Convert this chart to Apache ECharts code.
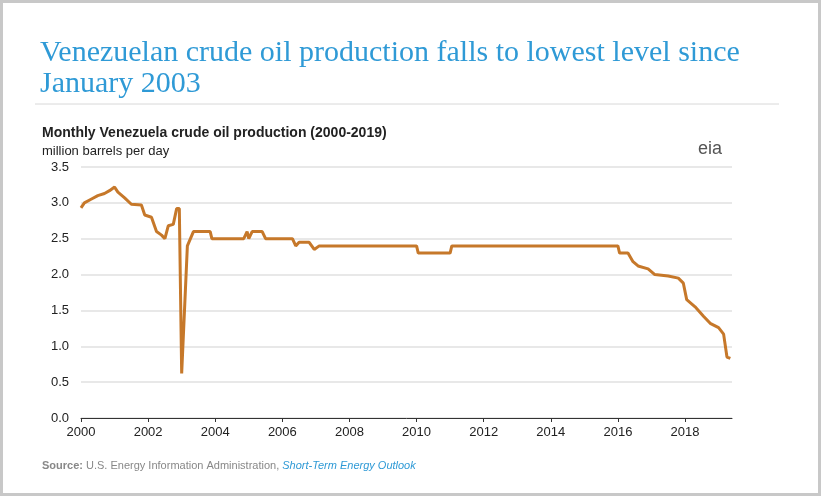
<!DOCTYPE html>
<html>
<head>
<meta charset="utf-8">
<script src="https://cdn.jsdelivr.net/npm/echarts@6/dist/echarts.min.js"></script>
<style>
  html, body { margin: 0; padding: 0; background: #fff; }
  #main { width: 821px; height: 496px; box-sizing: border-box; border: 3px solid #c8c8c8; }
</style>
</head>
<body>
<div id="main"></div>
<script>
// decimal year and production (million barrels per day)
var years = [2000.0, 2000.1, 2000.3, 2000.5, 2000.7, 2000.85, 2001.0, 2001.1, 2001.3, 2001.5, 2001.8, 2001.9, 2002.1, 2002.25, 2002.4, 2002.5, 2002.6, 2002.75,
    2002.85, 2002.93, 2003.0, 2003.17, 2003.35, 2003.85, 2003.9, 2004.85, 2004.95, 2005.0, 2005.1, 2005.4, 2005.5, 2006.3, 2006.4, 2006.5, 2006.8, 2006.95, 2007.1,
    2010.0, 2010.05, 2011.0, 2011.05, 2016.0, 2016.05, 2016.3, 2016.45, 2016.6, 2016.9, 2017.1, 2017.5, 2017.8, 2017.95, 2018.05, 2018.3, 2018.55, 2018.75, 2019.0, 2019.15, 2019.25, 2019.35];
var production = [2.93, 3.0, 3.05, 3.1, 3.13, 3.17, 3.22, 3.15, 3.07, 2.98, 2.97, 2.83, 2.8, 2.6, 2.55, 2.5, 2.68, 2.7,
    2.92, 2.92, 0.62, 2.4, 2.6, 2.6, 2.5, 2.5, 2.6, 2.5, 2.6, 2.6, 2.5, 2.5, 2.4, 2.45, 2.45, 2.35, 2.4,
    2.4, 2.3, 2.3, 2.4, 2.4, 2.3, 2.3, 2.18, 2.12, 2.08, 2.0, 1.98, 1.95, 1.88, 1.65, 1.55, 1.42, 1.32, 1.26, 1.17, 0.85, 0.83];
var yTicks = [0, 0.5, 1, 1.5, 2, 2.5, 3, 3.5];

var seriesData = years.map(function (y, i) { return [y, production[i]]; });

var myChart = echarts.init(document.getElementById('main'));
var option = {
    animation: false,
    title: [{
        text: 'Venezuelan crude oil production falls to lowest level since\nJanuary 2003',
        left: 32, top: 30,
        textStyle: { fontFamily: 'Liberation Serif', fontSize: 30, fontWeight: 'normal', color: '#2f9ad6', lineHeight: 31 }
    }, {
        text: 'Monthly Venezuela crude oil production (2000-2019)',
        left: 34, top: 118,
        textStyle: { fontFamily: 'Liberation Sans', fontSize: 14, fontWeight: 'bold', color: '#222' }
    }, {
        text: 'million barrels per day',
        left: 34, top: 137,
        textStyle: { fontFamily: 'Liberation Sans', fontSize: 13, fontWeight: 'normal', color: '#222' }
    }, {
        text: 'eia',
        left: 690, top: 132,
        textStyle: { fontFamily: 'Liberation Sans', fontSize: 18, fontWeight: 'normal', color: '#555' }
    }, {
        text: '{b|Source:} U.S. Energy Information Administration, {i|Short-Term Energy Outlook}',
        left: 34, top: 452,
        textStyle: {
            fontFamily: 'Liberation Sans', fontSize: 11, fontWeight: 'normal', color: '#888',
            rich: { b: { fontWeight: 'bold', color: '#888', fontSize: 11 }, i: { fontStyle: 'italic', color: '#2f9ad6', fontSize: 11 } }
        }
    }],
    graphic: [{
        type: 'line', shape: { x1: 32, y1: 101, x2: 776, y2: 101 },
        style: { stroke: '#d8d8d8', lineWidth: 1 }
    }],
    grid: { left: 78, right: 86, top: 164, bottom: 75 },
    xAxis: {
        type: 'value', min: 2000, max: 2019.4, interval: 2,
        axisLine: { show: true, lineStyle: { color: '#333' } },
        axisTick: { show: true, length: 4, lineStyle: { color: '#333' } },
        axisLabel: { showMaxLabel: false, color: '#222', fontSize: 13, fontFamily: 'Liberation Sans', formatter: function (v) { return String(v); } },
        splitLine: { show: false }
    },
    yAxis: {
        type: 'value', min: 0, max: 3.5, interval: 0.5,
        axisLine: { show: false }, axisTick: { show: false },
        axisLabel: { color: '#222', fontSize: 13, fontFamily: 'Liberation Sans', margin: 12, formatter: function (v) { return v.toFixed(1); } },
        splitLine: { lineStyle: { color: '#e0e0e0', width: 1.5 } }
    },
    series: [{
        type: 'line', data: seriesData, showSymbol: false,
        lineStyle: { color: '#c6782a', width: 3 }
    }]
};
myChart.setOption(option);
</script>
</body>
</html>
